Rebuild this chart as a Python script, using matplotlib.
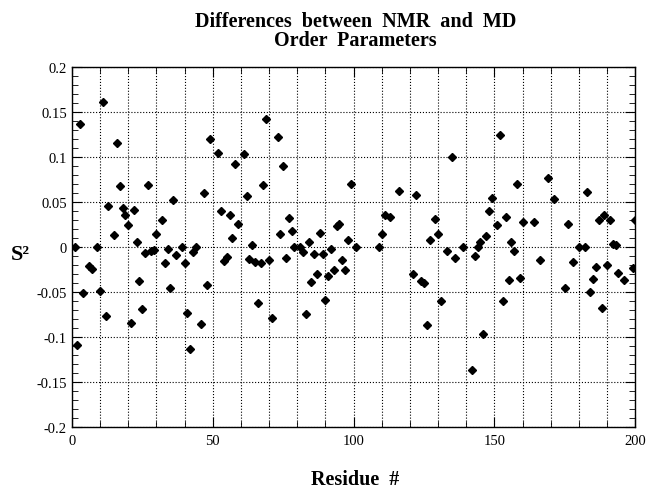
import numpy as np
import matplotlib.pyplot as plt
from matplotlib.ticker import MultipleLocator, FixedLocator, FixedFormatter

plt.rcParams['font.family'] = ['Liberation Serif', 'DejaVu Serif']

# Residue number and S2 difference (NMR - MD)
residue = [1, 2, 3, 4, 6, 7, 9, 10, 11, 12, 13, 15, 16, 17, 18, 19, 20, 21, 22, 23,
           24, 25, 26, 27, 28, 29, 30, 32, 33, 34, 35, 36, 37, 39, 40, 41, 42, 43, 44, 46,
           47, 48, 49, 52, 53, 54, 55, 56, 57, 58, 59, 61, 62, 63, 64, 65, 66, 67, 68, 69,
           70, 71, 73, 74, 75, 76, 77, 78, 79, 81, 82, 83, 84, 85, 86, 87, 88, 89, 90, 91,
           92, 93, 94, 95, 96, 97, 98, 99, 101, 109, 110, 111, 113, 116, 121, 122, 124, 125, 126, 127,
           129, 130, 131, 133, 135, 136, 139, 142, 143, 144, 145, 146, 147, 148, 149, 151, 152, 153, 154, 155,
           156, 157, 158, 159, 160, 164, 166, 169, 171, 175, 176, 178, 180, 182, 183, 184, 185, 186, 187, 188,
           189, 190, 191, 192, 193, 194, 196, 199, 200]
ds2 = [0.0, -0.109, 0.137, -0.051, -0.021, -0.024, 0.0, -0.049, 0.161, -0.077,
       0.046, 0.013, 0.116, 0.068, 0.043, 0.036, 0.024, -0.084, 0.041, 0.005,
       -0.038, -0.069, -0.007, 0.069, -0.004, -0.003, 0.014, 0.030, -0.018, -0.002,
       -0.046, 0.052, -0.009, 0.0, -0.018, -0.073, -0.114, -0.006, 0.0, -0.086,
       0.060, -0.042, 0.120, 0.104, 0.040, -0.016, -0.011, 0.036, 0.010, 0.092,
       0.025, 0.103, 0.057, -0.013, 0.002, -0.017, -0.062, -0.018, 0.069, 0.142,
       -0.014, -0.079, 0.122, 0.014, 0.090, -0.012, 0.032, 0.018, 0.0, 0.0,
       -0.006, -0.074, 0.006, -0.039, -0.008, -0.030, 0.015, -0.008, -0.059, -0.032,
       -0.002, -0.026, 0.023, 0.026, -0.014, -0.026, 0.008, 0.070, 0.0, 0.0,
       0.014, 0.035, 0.033, 0.062, -0.030, 0.058, -0.038, -0.040, -0.087, 0.008,
       0.031, 0.014, -0.060, -0.005, 0.100, -0.012, 0.0, -0.137, -0.010, 0.0,
       0.006, -0.097, 0.012, 0.040, 0.054, 0.024, 0.124, -0.060, 0.033, -0.037,
       0.006, -0.004, 0.070, -0.034, 0.028, 0.028, -0.014, 0.077, 0.053, -0.046,
       0.026, -0.017, 0.0, 0.0, 0.061, -0.050, -0.036, -0.022, 0.030, -0.068,
       0.035, -0.020, 0.030, 0.003, 0.002, -0.029, -0.037, -0.023, 0.030]

y_ticks = [-0.2, -0.15, -0.1, -0.05, 0, 0.05, 0.1, 0.15, 0.2]
y_labels = ['-0.2', '-0.15', '-0.1', '-0.05', '0', '0.05', '0.1', '0.15', '0.2']

fig = plt.figure(figsize=(6.47, 4.89), dpi=100)
ax = fig.add_axes([0.111, 0.125, 0.871, 0.736])

ax.plot(residue, ds2, 'D', color='black', markersize=4.5, linestyle='none')

ax.set_xlim(0, 200)
ax.set_ylim(-0.2, 0.2)
ax.xaxis.set_major_locator(MultipleLocator(50))
ax.xaxis.set_minor_locator(MultipleLocator(10))
ax.yaxis.set_major_locator(FixedLocator(y_ticks))
ax.yaxis.set_major_formatter(FixedFormatter(y_labels))
ax.yaxis.set_minor_locator(MultipleLocator(0.01))

ax.grid(True, which='minor', axis='x', linestyle=':', color='black', linewidth=0.8)
ax.grid(True, which='major', axis='both', linestyle=':', color='black', linewidth=0.8)

ax.tick_params(which='both', direction='in', top=True, right=True, labelsize=10.5)
ax.tick_params(which='major', length=7)
ax.tick_params(which='minor', length=4)
ax.tick_params(axis='x', pad=5)

for s in ax.spines.values():
    s.set_linewidth(1.0)

fig.text(0.549, 0.935, 'Differences  between  NMR  and  MD\nOrder  Parameters',
         ha='center', va='center', fontsize=14.5, fontweight='bold', linespacing=0.95)
fig.text(0.031, 0.479, 'S²', ha='center', va='center', fontsize=16, fontweight='bold')
fig.text(0.549, 0.018, 'Residue  #', ha='center', va='center', fontsize=14.5, fontweight='bold')

fig.savefig('out.png', dpi=100)
